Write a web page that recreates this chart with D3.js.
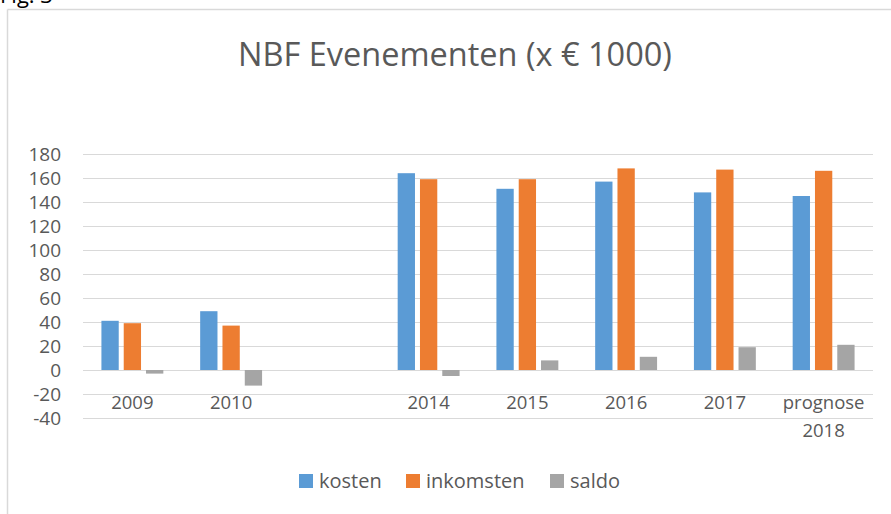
<!DOCTYPE html>
<html>
<head>
<meta charset="utf-8">
<style>
    body { margin: 0; background: #fff; }
    svg { display: block; font-family: "Open Sans", sans-serif; }
    .grid line { stroke: #d9d9d9; stroke-width: 1; }
    .grid .domain { display: none; }
</style>
</head>
<body>
<svg width="891" height="514"></svg>
<script src="https://d3js.org/d3.v7.min.js"></script>
<script>
// categories (one empty slot between 2010 and 2014)
const categories = ["2009", "2010", "", "2014", "2015", "2016", "2017", "prognose 2018"]
const series = ["kosten", "inkomsten", "saldo"]
const kosten    = [41, 49, null, 164, 151, 157, 148, 145]
const inkomsten = [39, 37, null, 159, 159, 168, 167, 166]
const saldo     = [-3, -13, null, -5, 8, 11, 19, 21]
const yTicks = [-40, -20, 0, 20, 40, 60, 80, 100, 120, 140, 160, 180]
const colors = ["#5b9bd5", "#ed7d31", "#a5a5a5"]

const seriesValues = [kosten, inkomsten, saldo]

const svg = d3.select("svg")

// chart frame (top + left edges visible)
svg.append("line").attr("x1", 7.5).attr("x2", 891).attr("y1", 9.5).attr("y2", 9.5)
    .attr("stroke", "#d9d9d9").attr("stroke-width", 1.5)
svg.append("line").attr("x1", 7.5).attr("x2", 7.5).attr("y1", 9.5).attr("y2", 514)
    .attr("stroke", "#d9d9d9").attr("stroke-width", 1.5)

// clipped caption above the chart
svg.append("text").attr("x", 0).attr("y", 3)
    .style("font-size", "22px").style("fill", "#000").text("Fig. 3")

svg.append("text")
    .attr("x", 455).attr("y", 66)
    .attr("text-anchor", "middle")
    .style("font-size", "32.5px").style("fill", "#595959")
    .text("NBF Evenementen (x € 1000)")

const margin = {left: 83, right: 873, top: 154, bottom: 418}

const x = d3.scaleBand()
    .domain(categories)
    .range([margin.left, margin.right])

const x1 = d3.scaleBand()
    .domain(series)
    .range([0, x.bandwidth()])
    .paddingInner(0.224)
    .paddingOuter(0.826)

const y = d3.scaleLinear()
    .domain([-40, 180])
    .range([margin.bottom, margin.top])

// gridlines + y labels
const yAxis = svg.append("g")
    .attr("class", "grid y")
    .attr("transform", `translate(${margin.left},0)`)
    .call(d3.axisLeft(y).tickValues(yTicks).tickFormat(d => String(d))
        .tickSize(-(margin.right - margin.left)).tickPadding(22))
yAxis.attr("font-family", null).attr("font-size", null)
yAxis.selectAll("text")
    .attr("dy", "0.36em")
    .style("font-size", "19px").style("fill", "#595959")

// x labels
const xAxis = svg.append("g")
    .attr("class", "x")
    .attr("transform", `translate(0,${y(0)})`)
    .call(d3.axisBottom(x).tickSize(0).tickPadding(0))
xAxis.attr("font-family", null).attr("font-size", null)
xAxis.select(".domain").remove()
xAxis.selectAll("text").each(function (d) {
    const t = d3.select(this)
    const words = d.split(" ")
    t.text(null).attr("y", 0).attr("dy", null)
        .style("font-size", "18.5px").style("fill", "#595959")
    words.forEach((w, i) => {
        t.append("tspan").attr("x", 0).attr("y", 39 + i * 28).text(w)
    })
})

// bars
const groups = svg.append("g").attr("class", "bars")
    .selectAll("g")
    .data(series)
    .join("g")
    .attr("fill", (d, i) => colors[i])

groups.selectAll("rect")
    .data((s, i) => categories.map((c, j) => ({c: c, s: s, v: seriesValues[i][j]})).filter(d => d.v !== null))
    .join("rect")
    .attr("x", d => x(d.c) + x1(d.s))
    .attr("width", x1.bandwidth())
    .attr("y", d => y(Math.max(0, d.v)))
    .attr("height", d => Math.abs(y(d.v) - y(0)))

// legend
const legendX = [299, 406, 550]
const legend = svg.append("g").attr("class", "legend")
    .selectAll("g")
    .data(series)
    .join("g")
    .attr("transform", (d, i) => `translate(${legendX[i]},474)`)
legend.append("rect").attr("width", 14).attr("height", 14).attr("fill", (d, i) => colors[i])
legend.append("text").attr("x", 20).attr("y", 14)
    .style("font-size", "20px").style("fill", "#595959")
    .text(d => d)
</script>
</body>
</html>
